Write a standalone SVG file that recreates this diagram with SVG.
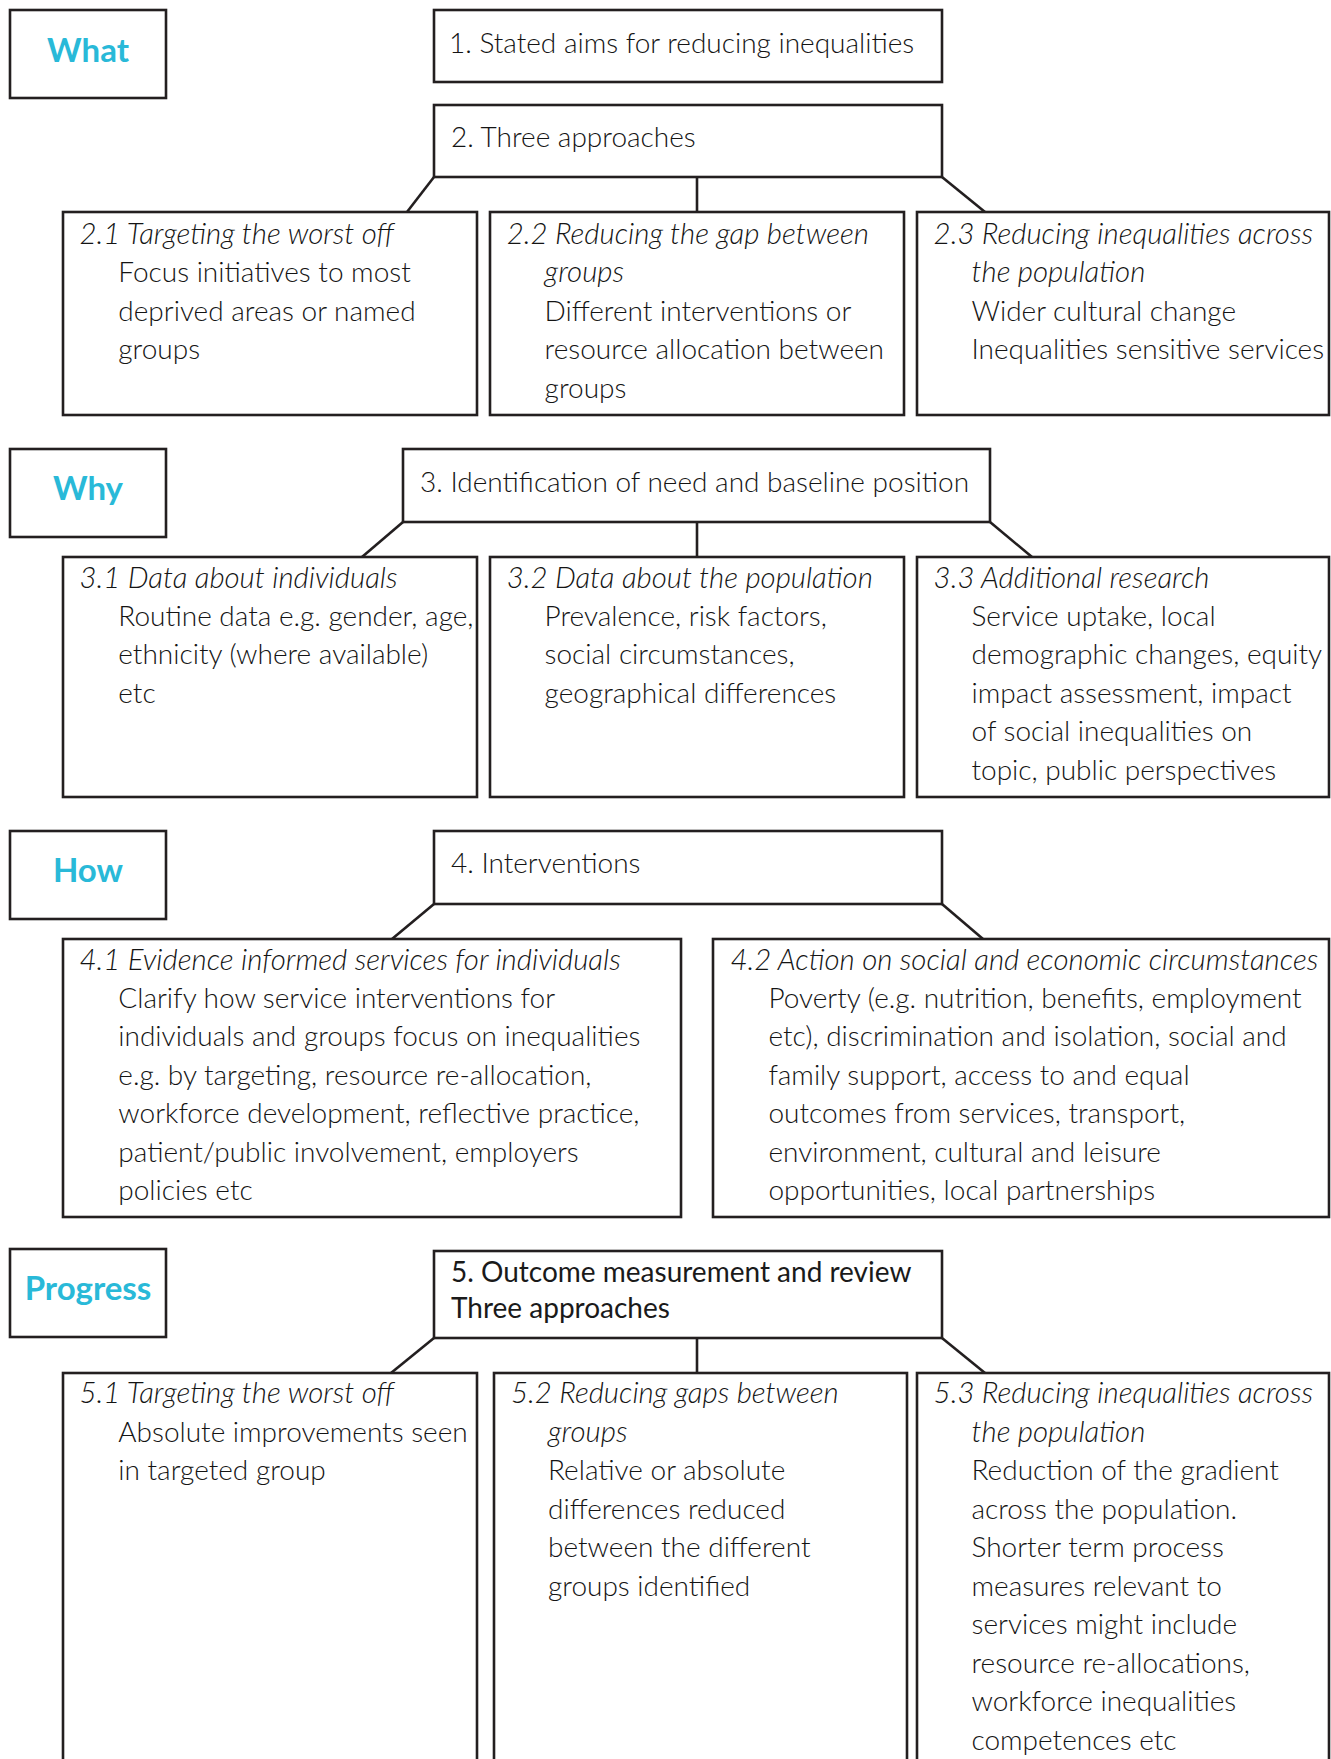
<svg xmlns="http://www.w3.org/2000/svg" width="1331" height="1759" viewBox="0 0 1331 1759">
<style>
.box{fill:#fff;stroke:#231f20;stroke-width:2.6}
.conn line{stroke:#231f20;stroke-width:2.6}
.lbl{font-family:"Lato","Open Sans",sans-serif;font-weight:700;font-size:33px;fill:#29b9d8;text-anchor:middle}
.t{font-family:"Lato","Open Sans",sans-serif;font-weight:300;font-size:28px;fill:#141414}
.tb{font-family:"Lato","Open Sans",sans-serif;font-weight:400;font-size:28px;fill:#1a1a1a}
.i{font-style:italic;font-size:29.4px}
</style>
<rect width="1331" height="1759" fill="#fff"/>
<g id="connectors" class="conn">
<line x1="434" y1="177" x2="407" y2="212"/>
<line x1="697" y1="177" x2="697" y2="212"/>
<line x1="942" y1="177" x2="985" y2="212"/>
<line x1="403" y1="522" x2="362" y2="557"/>
<line x1="697" y1="522" x2="697" y2="557"/>
<line x1="990" y1="522" x2="1032" y2="557"/>
<line x1="434" y1="904" x2="392" y2="939"/>
<line x1="942" y1="904" x2="983" y2="939"/>
<line x1="434" y1="1338" x2="391" y2="1373"/>
<line x1="697" y1="1338" x2="697" y2="1373"/>
<line x1="942" y1="1338" x2="985" y2="1373"/>
</g>
<g id="what"><rect class="box" x="10" y="10" width="156" height="88"/><text class="lbl" x="88" y="62">What</text></g>
<g id="why"><rect class="box" x="10" y="449" width="156" height="88"/><text class="lbl" x="88" y="500">Why</text></g>
<g id="how"><rect class="box" x="10" y="831" width="156" height="88"/><text class="lbl" x="88" y="882">How</text></g>
<g id="progress"><rect class="box" x="10" y="1249" width="156" height="88"/><text class="lbl" x="88" y="1300">Progress</text></g>

<g id="n1"><rect class="box" x="434" y="10" width="508" height="72"/><text class="t" x="449" y="53">1. Stated aims for reducing inequalities</text></g>
<g id="n2"><rect class="box" x="434" y="105" width="508" height="72"/><text class="t" x="451" y="147">2. Three approaches</text></g>
<g id="n21"><rect class="box" x="63" y="212" width="414" height="203"/>
<text class="t"><tspan class="i" x="79.5" y="243.5">2.1 Targeting the worst off</tspan><tspan x="118.3" y="282">Focus initiatives to most</tspan><tspan x="118.3" y="320.5">deprived areas or named</tspan><tspan x="118.3" y="359">groups</tspan></text></g>
<g id="n22"><rect class="box" x="490" y="212" width="414" height="203"/>
<text class="t"><tspan class="i" x="506.7" y="243.5">2.2 Reducing the gap between</tspan><tspan class="i" x="544.6" y="282">groups</tspan><tspan x="544.6" y="320.5">Different interventions or</tspan><tspan x="544.6" y="359">resource allocation between</tspan><tspan x="544.6" y="397.5">groups</tspan></text></g>
<g id="n23"><rect class="box" x="917" y="212" width="412" height="203"/>
<text class="t"><tspan class="i" x="933.6" y="243.5">2.3 Reducing inequalities across</tspan><tspan class="i" x="971.5" y="282">the population</tspan><tspan x="971.5" y="320.5">Wider cultural change</tspan><tspan x="971.5" y="359">Inequalities sensitive services</tspan></text></g>

<g id="n3"><rect class="box" x="403" y="449" width="587" height="73"/><text class="t" x="420" y="492">3. Identification of need and baseline position</text></g>
<g id="n31"><rect class="box" x="63" y="557" width="414" height="240"/>
<text class="t"><tspan class="i" x="79.5" y="587.5">3.1 Data about individuals</tspan><tspan x="118.3" y="625.5">Routine data e.g. gender, age,</tspan><tspan x="118.3" y="664">ethnicity (where available)</tspan><tspan x="118.3" y="702.5">etc</tspan></text></g>
<g id="n32"><rect class="box" x="490" y="557" width="414" height="240"/>
<text class="t"><tspan class="i" x="506.7" y="587.5">3.2 Data about the population</tspan><tspan x="544.6" y="625.5">Prevalence, risk factors,</tspan><tspan x="544.6" y="664">social circumstances,</tspan><tspan x="544.6" y="702.5">geographical differences</tspan></text></g>
<g id="n33"><rect class="box" x="917" y="557" width="412" height="240"/>
<text class="t"><tspan class="i" x="933.6" y="587.5">3.3 Additional research</tspan><tspan x="971.5" y="625.5">Service uptake, local</tspan><tspan x="971.5" y="664">demographic changes, equity</tspan><tspan x="971.5" y="702.5">impact assessment, impact</tspan><tspan x="971.5" y="741">of social inequalities on</tspan><tspan x="971.5" y="779.5">topic, public perspectives</tspan></text></g>

<g id="n4"><rect class="box" x="434" y="831" width="508" height="73"/><text class="t" x="451" y="873">4. Interventions</text></g>
<g id="n41"><rect class="box" x="63" y="939" width="618" height="278"/>
<text class="t"><tspan class="i" x="79.5" y="969.5">4.1 Evidence informed services for individuals</tspan><tspan x="118.3" y="1007.5">Clarify how service interventions for</tspan><tspan x="118.3" y="1046">individuals and groups focus on inequalities</tspan><tspan x="118.3" y="1084.5">e.g. by targeting, resource re-allocation,</tspan><tspan x="118.3" y="1123">workforce development, reflective practice,</tspan><tspan x="118.3" y="1161.5">patient/public involvement, employers</tspan><tspan x="118.3" y="1200">policies etc</tspan></text></g>
<g id="n42"><rect class="box" x="713" y="939" width="616" height="278"/>
<text class="t"><tspan class="i" x="730.4" y="969.5">4.2 Action on social and economic circumstances</tspan><tspan x="768.4" y="1007.5">Poverty (e.g. nutrition, benefits, employment</tspan><tspan x="768.4" y="1046">etc), discrimination and isolation, social and</tspan><tspan x="768.4" y="1084.5">family support, access to and equal</tspan><tspan x="768.4" y="1123">outcomes from services, transport,</tspan><tspan x="768.4" y="1161.5">environment, cultural and leisure</tspan><tspan x="768.4" y="1200">opportunities, local partnerships</tspan></text></g>

<g id="n5"><rect class="box" x="434" y="1251" width="508" height="87"/>
<text class="tb"><tspan x="451" y="1282">5. Outcome measurement and review</tspan><tspan x="451" y="1318">Three approaches</tspan></text></g>
<g id="n51"><rect class="box" x="63" y="1373" width="414" height="400"/>
<text class="t"><tspan class="i" x="79.5" y="1403">5.1 Targeting the worst off</tspan><tspan x="118.3" y="1441.5">Absolute improvements seen</tspan><tspan x="118.3" y="1480">in targeted group</tspan></text></g>
<g id="n52"><rect class="box" x="494" y="1373" width="413" height="400"/>
<text class="t"><tspan class="i" x="511" y="1403">5.2 Reducing gaps between</tspan><tspan class="i" x="548" y="1441.5">groups</tspan><tspan x="548" y="1480">Relative or absolute</tspan><tspan x="548" y="1518.5">differences reduced</tspan><tspan x="548" y="1557">between the different</tspan><tspan x="548" y="1595.5">groups identified</tspan></text></g>
<g id="n53"><rect class="box" x="917" y="1373" width="412" height="400"/>
<text class="t"><tspan class="i" x="933.6" y="1403">5.3 Reducing inequalities across</tspan><tspan class="i" x="971.5" y="1441.5">the population</tspan><tspan x="971.5" y="1480">Reduction of the gradient</tspan><tspan x="971.5" y="1518.5">across the population.</tspan><tspan x="971.5" y="1557">Shorter term process</tspan><tspan x="971.5" y="1595.5">measures relevant to</tspan><tspan x="971.5" y="1634">services might include</tspan><tspan x="971.5" y="1672.5">resource re-allocations,</tspan><tspan x="971.5" y="1711">workforce inequalities</tspan><tspan x="971.5" y="1749.5">competences etc</tspan></text></g>
</svg>
